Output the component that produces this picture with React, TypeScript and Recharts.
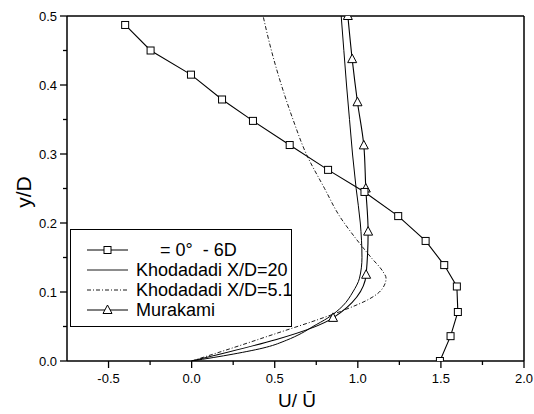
import React from "react";
import {
  ComposedChart,
  Line,
  XAxis,
  YAxis,
  ReferenceLine,
  Label,
} from "recharts";

// experiment, theta = 0 deg, 6D (squares)
const yExp = [0.0, 0.036, 0.071, 0.108, 0.139, 0.174, 0.21, 0.245, 0.277, 0.313, 0.348, 0.379, 0.415, 0.45, 0.487];
const uExp = [1.494, 1.558, 1.602, 1.596, 1.52, 1.408, 1.243, 1.04, 0.821, 0.59, 0.369, 0.183, -0.004, -0.247, -0.4];

// Khodadadi X/D=20 (thin solid)
const yK20 = [0, 0.01, 0.02, 0.03, 0.04, 0.05, 0.0625, 0.08, 0.1, 0.12, 0.15, 0.2, 0.25, 0.3, 0.35, 0.4, 0.45, 0.5];
const uK20 = [0, 0.25, 0.45, 0.57, 0.66, 0.73, 0.82, 0.91, 0.97, 1.01, 1.025, 1.015, 0.99, 0.968, 0.95, 0.932, 0.916, 0.9];

// Khodadadi X/D=5.1 (dash dot)
const yK51 = [0, 0.02, 0.04, 0.06, 0.075, 0.09, 0.1, 0.11, 0.12, 0.13, 0.15, 0.18, 0.21, 0.25, 0.3, 0.35, 0.4, 0.45, 0.5];
const uK51 = [0, 0.26, 0.51, 0.76, 0.93, 1.07, 1.13, 1.16, 1.17, 1.15, 1.08, 0.98, 0.89, 0.8, 0.69, 0.61, 0.54, 0.48, 0.43];

// Murakami (triangles)
const yMur = [0, 0.0625, 0.125, 0.1875, 0.25, 0.3125, 0.375, 0.4375, 0.5];
const uMur = [0, 0.851, 1.05, 1.062, 1.048, 1.036, 0.998, 0.966, 0.94];

const xTicks = [-0.5, -0.25, 0, 0.25, 0.5, 0.75, 1, 1.25, 1.5, 1.75, 2];
const yTicks = [0, 0.05, 0.1, 0.15, 0.2, 0.25, 0.3, 0.35, 0.4, 0.45, 0.5];

const zip = (ys: number[], us: number[]) => ys.map((y, i) => ({ y, u: us[i] }));

const expData = zip(yExp, uExp);
const k20Data = zip(yK20, uK20);
const k51Data = zip(yK51, uK51);
const murData = zip(yMur, uMur);

const font = "'Liberation Sans', Arial, sans-serif";

const isMajor = (v: number, step: number) => Math.abs(v / step - Math.round(v / step)) < 1e-6;

const XTick = (props: any) => {
  const { x, y, payload } = props;
  const v = payload.value;
  const major = isMajor(v, 0.5);
  return (
    <g>
      <line x1={x} x2={x} y1={y} y2={y + (major ? 7 : 4)} stroke="#000" strokeWidth={1.3} />
      {major && (
        <text x={x} y={y + 22} textAnchor="middle" fontSize={13} fontFamily={font} fill="#000">
          {v.toFixed(1)}
        </text>
      )}
    </g>
  );
};

const YTick = (props: any) => {
  const { x, y, payload } = props;
  const v = payload.value;
  const major = isMajor(v, 0.1);
  return (
    <g>
      <line x1={x - (major ? 7 : 4)} x2={x} y1={y} y2={y} stroke="#000" strokeWidth={1.3} />
      {major && (
        <text x={x - 10} y={y + 4.5} textAnchor="end" fontSize={13} fontFamily={font} fill="#000">
          {v.toFixed(1)}
        </text>
      )}
    </g>
  );
};

const SquareDot = (p: any) => (
  <rect key={`s${p.index}`} x={p.cx - 3.5} y={p.cy - 3.5} width={7} height={7} fill="#fff" stroke="#000" strokeWidth={1} />
);

const TriangleDot = (p: any) => {
  if (p.payload && p.payload.y === 0) return <g key={`t${p.index}`} />;
  return (
    <polygon
      key={`t${p.index}`}
      points={`${p.cx},${p.cy - 5} ${p.cx - 4.5},${p.cy + 3.5} ${p.cx + 4.5},${p.cy + 3.5}`}
      fill="#fff"
      stroke="#000"
      strokeWidth={1}
    />
  );
};

const LegendBox = () => {
  const row = (sample: React.ReactNode, text: string, pad = 0) => (
    <div style={{ display: "flex", alignItems: "center", height: 20 }}>
      <svg width={65} height={20} style={{ flex: "none" }}>
        {sample}
      </svg>
      <span style={{ paddingLeft: pad, whiteSpace: "pre", lineHeight: "20px" }}>{text}</span>
    </div>
  );
  return (
    <div
      style={{
        position: "absolute",
        left: 70,
        top: 229,
        width: 222,
        height: 98,
        boxSizing: "border-box",
        border: "1px solid #000",
        background: "#fff",
        fontFamily: font,
        fontSize: 18,
        color: "#000",
        paddingTop: 10,
      }}
    >
      {row(
        <g>
          <line x1={16} x2={57} y1={10} y2={10} stroke="#000" />
          <rect x={33} y={6.5} width={7} height={7} fill="#fff" stroke="#000" />
        </g>,
        "= 0°  - 6D",
        24
      )}
      {row(<line x1={16} x2={57} y1={10} y2={10} stroke="#000" strokeWidth={0.9} />, "Khodadadi X/D=20")}
      {row(
        <line x1={16} x2={57} y1={10} y2={10} stroke="#000" strokeWidth={0.9} strokeDasharray="4 2 1 2" />,
        "Khodadadi X/D=5.1"
      )}
      {row(
        <g>
          <line x1={16} x2={57} y1={10} y2={10} stroke="#000" />
          <polygon points="36.5,5 32,13.5 41,13.5" fill="#fff" stroke="#000" />
        </g>,
        "Murakami"
      )}
    </div>
  );
};

export default function App() {
  return (
    <div style={{ position: "absolute", left: 0, top: 0, width: 534, height: 414, background: "#fff" }}>
      <ComposedChart
        layout="vertical"
        width={534}
        height={414}
        margin={{ top: 16, right: 10, left: 0, bottom: 0 }}
      >
        <XAxis
          type="number"
          dataKey="u"
          domain={[-0.75, 2]}
          ticks={xTicks}
          allowDataOverflow
          height={53}
          tickSize={0}
          tickMargin={0}
          tickLine={false}
          tick={<XTick />}
          interval={0}
          axisLine={{ stroke: "#000", strokeWidth: 1.5 }}
        >
          <Label
            content={() => (
              <text x={297} y={407} textAnchor="middle" fontSize={19} fontFamily={font} fill="#000">
                U/ Ū
              </text>
            )}
          />
        </XAxis>
        <YAxis
          type="number"
          dataKey="y"
          domain={[0, 0.5]}
          ticks={yTicks}
          reversed
          allowDataOverflow
          width={67}
          tickSize={0}
          tickMargin={0}
          tickLine={false}
          tick={<YTick />}
          interval={0}
          axisLine={{ stroke: "#000", strokeWidth: 1.5 }}
        >
          <Label
            content={() => (
              <text
                x={23}
                y={192}
                transform="rotate(-90 23 192)"
                textAnchor="middle"
                dominantBaseline="central"
                fontSize={21}
                fontFamily={font}
                fill="#000"
              >
                y/D
              </text>
            )}
          />
        </YAxis>
        <ReferenceLine y={0.5} stroke="#000" strokeWidth={1.5} />
        <ReferenceLine x={2} stroke="#000" strokeWidth={1.5} />
        <Line
          data={k51Data}
          dataKey="u"
          type="monotone"
          stroke="#000"
          strokeWidth={0.9}
          strokeDasharray="4 2 1 2"
          dot={false}
          isAnimationActive={false}
        />
        <Line
          data={k20Data}
          dataKey="u"
          type="monotone"
          stroke="#000"
          strokeWidth={1}
          dot={false}
          isAnimationActive={false}
        />
        <Line
          data={murData}
          dataKey="u"
          type="monotone"
          stroke="#000"
          strokeWidth={1.1}
          dot={TriangleDot}
          isAnimationActive={false}
        />
        <Line
          data={expData}
          dataKey="u"
          type="linear"
          stroke="#000"
          strokeWidth={1.1}
          dot={SquareDot}
          isAnimationActive={false}
        />
      </ComposedChart>
      <LegendBox />
    </div>
  );
}
